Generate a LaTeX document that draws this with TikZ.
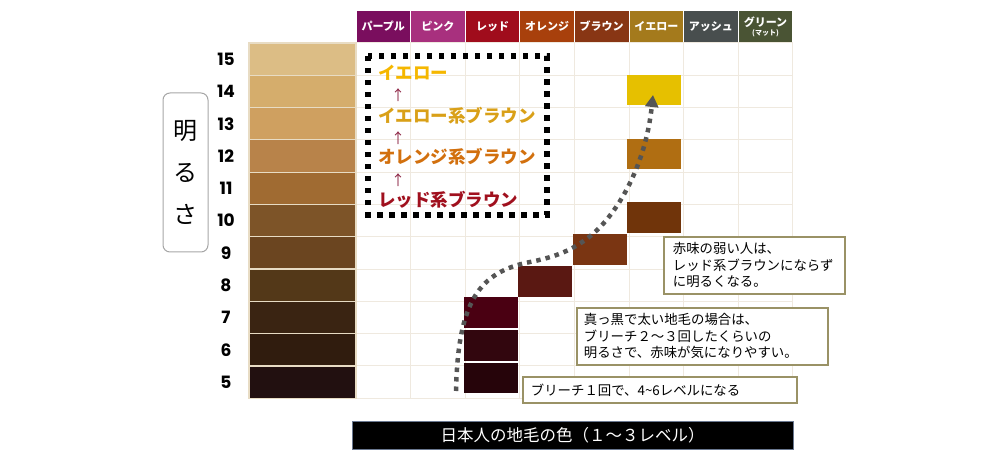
\documentclass[tikz,border=0pt]{standalone}
\usepackage{fontspec}
\setmainfont{Noto Sans CJK JP}
\newfontfamily\numfont{Poppins}
\usetikzlibrary{arrows.meta}

\definecolor{hpurple}{HTML}{7A0E5E}
\definecolor{hpink}{HTML}{A8307E}
\definecolor{hred}{HTML}{A00C1C}
\definecolor{horange}{HTML}{A8400C}
\definecolor{hbrown}{HTML}{883614}
\definecolor{hyellow}{HTML}{A47A1C}
\definecolor{hash}{HTML}{484E4E}
\definecolor{hgreen}{HTML}{4A5434}
\definecolor{lv15}{HTML}{DCBD85}
\definecolor{lv14}{HTML}{D5AD6C}
\definecolor{lv13}{HTML}{CFA060}
\definecolor{lv12}{HTML}{B8834A}
\definecolor{lv11}{HTML}{A06B32}
\definecolor{lv10}{HTML}{7D5428}
\definecolor{lv9}{HTML}{6B4520}
\definecolor{lv8}{HTML}{533818}
\definecolor{lv7}{HTML}{3A2412}
\definecolor{lv6}{HTML}{301C0E}
\definecolor{lv5}{HTML}{221010}
\definecolor{lvline}{HTML}{E8DCC4}
\definecolor{gridline}{HTML}{EFE9DF}
\definecolor{blk7}{HTML}{4A0012}
\definecolor{blk6}{HTML}{32060E}
\definecolor{blk5}{HTML}{26040A}
\definecolor{blk8}{HTML}{5A1812}
\definecolor{blk9}{HTML}{7A3512}
\definecolor{blk10}{HTML}{70340A}
\definecolor{blk12}{HTML}{B06E12}
\definecolor{blk14}{HTML}{E6C000}
\definecolor{tyellow}{HTML}{F5B700}
\definecolor{tylwbrown}{HTML}{D9A018}
\definecolor{torgbrown}{HTML}{D2700E}
\definecolor{tredbrown}{HTML}{A0101E}
\definecolor{uparrow}{HTML}{8A2040}
\definecolor{trendgray}{HTML}{555555}
\definecolor{noteline}{HTML}{9A9266}
\definecolor{barline}{HTML}{6A7890}

\begin{document}
\begin{tikzpicture}[x=1pt, y=-1pt,
	headbox/.style={rectangle, minimum width=53.6pt, minimum height=31pt, inner sep=0pt, text=white, font=\bfseries\fontsize{11}{12}\selectfont, align=center},
	lvbox/.style={rectangle, minimum width=107pt, minimum height=32.3pt, inner sep=0pt, draw=lvline, line width=1.2pt},
	numtext/.style={inner sep=0pt, font=\numfont\bfseries\fontsize{17}{17}\selectfont},
	clrblock/.style={rectangle, minimum width=54pt, minimum height=30.5pt, inner sep=0pt},
	chaintext/.style={anchor=west, inner sep=0pt, font=\bfseries\fontsize{17.5}{18}\selectfont},
	uparr/.style={inner sep=0pt, text=uparrow, font=\fontsize{14}{14}\selectfont},
	notebox/.style={rectangle, draw=noteline, line width=1.8pt, fill=white, anchor=north west, align=left, inner xsep=8pt, inner ysep=0pt, font=\fontsize{13.4}{16.5}\selectfont},
	trend/.style={draw=trendgray, line width=4.5pt, dash pattern=on 4.5pt off 5pt, -{Triangle[width=13pt, length=12pt]}},
	]
	\useasboundingbox (0,0) rectangle (1007,462);

	% grid
	\foreach \i in {0,...,8}
		\draw [gridline, line width=1pt] (356+54.6*\i, 43) -- (356+54.6*\i, 398);
	\foreach \j in {0,...,11}
		\draw [gridline, line width=1pt] (356, 43+32.3*\j) -- (793, 43+32.3*\j);

	% header
	\foreach \n/\c [count=\i from 0] in {パープル/hpurple, ピンク/hpink, レッド/hred, オレンジ/horange, ブラウン/hbrown, イエロー/hyellow, アッシュ/hash}
		\node (h\i) [headbox, fill=\c] at (383.3+54.6*\i, 26.5) {\n};
	\node (h7) [headbox, fill=hgreen] at (383.3+54.6*7, 26.5) {グリーン\\[-3pt]{\fontsize{7}{7}\selectfont (マット)}};

	% levels
	\foreach \l/\c [count=\r from 0] in {15/lv15, 14/lv14, 13/lv13, 12/lv12, 11/lv11, 10/lv10, 9/lv9, 8/lv8, 7/lv7, 6/lv6, 5/lv5} {
		\node (lv\l) [lvbox, fill=\c] at (302.5, 59.15+32.3*\r) {};
		\node (num\l) [numtext] at (226, 59.15+32.3*\r) {\l};
	}

	\node (bright) [draw=gray!70, line width=1pt, rounded corners=7pt, minimum width=45pt, minimum height=159pt, align=center, font=\fontsize{24}{42}\selectfont] at (185.5, 172.5) {明\\る\\さ};

	% order of colours
	\draw [line width=5.5pt, dash pattern=on 5.5pt off 6.5pt] (368, 56) rectangle (547, 215);
	\node (t1) [chaintext, text=tyellow] at (378, 73) {イエロー};
	\node (a1) [uparr] at (398, 95) {↑};
	\node (t2) [chaintext, text=tylwbrown] at (378, 116) {イエロー系ブラウン};
	\node (a2) [uparr] at (398, 138) {↑};
	\node (t3) [chaintext, text=torgbrown] at (378, 157) {オレンジ系ブラウン};
	\node (a3) [uparr] at (398, 180) {↑};
	\node (t4) [chaintext, text=tredbrown] at (378, 200) {レッド系ブラウン};

	% colour blocks
	\foreach \l/\x/\y/\c in {7/490.5/312.5/blk7, 6/490.5/345.5/blk6, 5/490.5/378/blk5, 8/545/281.5/blk8, 9/600/249.5/blk9, 10/653.5/217.5/blk10, 12/653.5/154/blk12, 14/653.5/90/blk14}
		\node (b\l) [clrblock, fill=\c] at (\x, \y) {};

	\coordinate (cstart) at (456, 391);
	\coordinate (cend) at (653, 95);
	\draw [trend] (cstart) .. controls (458, 300) and (480, 272) .. (530, 262) .. controls (555, 257) and (575, 250) .. (595, 232) .. controls (615, 214) and (645, 170) .. (cend);

	% notes
	\node (n1) [notebox, text width=163pt, inner xsep=9pt, minimum height=57pt] at (663, 236) {赤味の弱い人は、\\レッド系ブラウンにならず\\に明るくなる。};
	\node (n2) [notebox, text width=237pt, inner xsep=7pt, minimum height=57pt] at (576, 307) {真っ黒で太い地毛の場合は、\\ブリーチ２～３回したくらいの\\明るさで、赤味が気になりやすい。};
	\node (n3) [notebox, text width=258pt, minimum height=26pt] at (522, 376) {ブリーチ１回で、4\textasciitilde 6レベルになる};

	\node (base) [fill=black, draw=barline, line width=0.8pt, minimum width=441pt, minimum height=28pt, text=white, font=\fontsize{16.5}{17}\selectfont] at (572.5, 435) {日本人の地毛の色（１～３レベル）};

\end{tikzpicture}
\end{document}
